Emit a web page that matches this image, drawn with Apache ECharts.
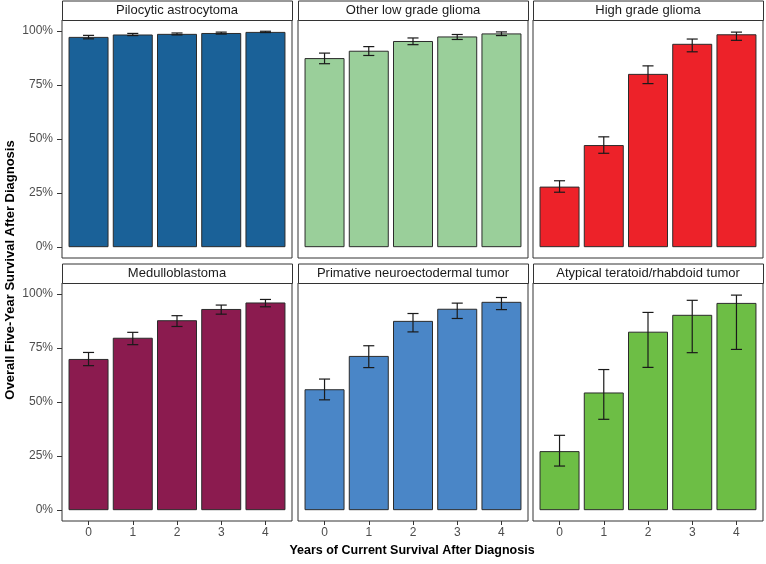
<!DOCTYPE html>
<html>
<head>
<meta charset="utf-8">
<script src="https://cdn.jsdelivr.net/npm/echarts@6/dist/echarts.min.js"></script>
<style>html,body{margin:0;padding:0;background:#fff}#c{width:766px;height:564px}</style>
</head>
<body>
<div id="c"></div>
<script>
// ---- data ----
const years = [0, 1, 2, 3, 4];
const yTicks = [0, 25, 50, 75, 100];
const panelTitles = ['Pilocytic astrocytoma', 'Other low grade glioma', 'High grade glioma',
  'Medulloblastoma', 'Primative neuroectodermal tumor', 'Atypical teratoid/rhabdoid tumor'];

const pilocyticVal = [97.2, 98.3, 98.6, 99.0, 99.5];
const pilocyticLo  = [96.3, 97.8, 98.1, 98.5, 99.2];
const pilocyticHi  = [97.9, 98.8, 99.0, 99.4, 99.8];

const lowGradeVal = [87.4, 90.8, 95.3, 97.4, 98.8];
const lowGradeLo  = [84.8, 88.6, 93.6, 96.0, 97.8];
const lowGradeHi  = [89.7, 92.7, 96.7, 98.3, 99.5];

const highGradeVal = [28.0, 47.2, 80.1, 94.0, 98.4];
const highGradeLo  = [25.4, 43.4, 75.6, 90.3, 95.6];
const highGradeHi  = [30.7, 51.0, 83.8, 96.2, 99.4];

const medulloVal = [69.9, 79.7, 87.8, 93.0, 96.0];
const medulloLo  = [66.8, 76.5, 84.9, 90.6, 94.0];
const medulloHi  = [72.9, 82.2, 89.9, 94.8, 97.4];

const pnetVal = [55.9, 71.3, 87.5, 93.1, 96.3];
const pnetLo  = [51.0, 65.9, 82.4, 88.6, 92.7];
const pnetHi  = [60.6, 76.0, 90.9, 95.7, 98.3];

const atrtVal = [27.3, 54.4, 82.5, 90.3, 95.8];
const atrtLo  = [20.4, 42.0, 66.0, 72.8, 74.3];
const atrtHi  = [34.6, 65.0, 91.4, 97.0, 99.4];

const panelVals = [pilocyticVal, lowGradeVal, highGradeVal, medulloVal, pnetVal, atrtVal];
const panelLo = [pilocyticLo, lowGradeLo, highGradeLo, medulloLo, pnetLo, atrtLo];
const panelHi = [pilocyticHi, lowGradeHi, highGradeHi, medulloHi, pnetHi, atrtHi];
const panelColors = ['#1a6198', '#9acf9a', '#ed2229', '#8b1b4f', '#4a86c7', '#6dbe45'];

// ---- layout ----
const colLeft = [62, 298, 533];
const panelW = 230;
const rowStripTop = [0.5, 263.5];
const stripH = 19.5;
const rowTop = [20, 283];
const panelH = 238;
const FONT = '"Liberation Sans", Arial, sans-serif';

const grids = [], xAxes = [], yAxes = [], series = [], graphics = [];
for (let i = 0; i < 6; i++) {
  const r = Math.floor(i / 3), c = i % 3;
  grids.push({left: colLeft[c], top: rowTop[r], width: panelW, height: panelH,
    show: true, borderColor: '#333', borderWidth: 1, backgroundColor: '#fff', containLabel: false});
  xAxes.push({type: 'value', gridIndex: i, min: -0.6, max: 4.6, position: 'bottom',
    axisLine: {show: false, onZero: false}, splitLine: {show: false},
    axisTick: {show: r === 1, customValues: years, length: 4, lineStyle: {color: '#333'}},
    axisLabel: {show: r === 1, customValues: years, color: '#4d4d4d', fontSize: 12, fontFamily: FONT, margin: 6}});
  yAxes.push({type: 'value', gridIndex: i, min: -5, max: 105, position: 'left',
    axisLine: {show: false, onZero: false}, splitLine: {show: false},
    axisTick: {show: c === 0, customValues: yTicks, length: 5, lineStyle: {color: '#333'}},
    axisLabel: {show: c === 0, customValues: yTicks, formatter: '{value}%', color: '#4d4d4d', fontSize: 12, fontFamily: FONT, margin: 9}});
  const vals = panelVals[i];
  series.push({type: 'bar', xAxisIndex: i, yAxisIndex: i, barWidth: 40,
    data: years.map((y, k) => [y, vals[k]]),
    itemStyle: {color: panelColors[i], borderColor: '#2b2b2b', borderWidth: 1},
    silent: true, animation: false});
  series.push({type: 'custom', xAxisIndex: i, yAxisIndex: i,
    data: years.map((y, k) => [y, panelLo[i][k], panelHi[i][k]]),
    renderItem: function (params, api) {
      const x = api.value(0);
      const lo = api.coord([x, api.value(1)]);
      const hi = api.coord([x, api.value(2)]);
      const hw = api.size([0.125, 0])[0];
      const st = {stroke: '#1a1a1a', lineWidth: 1.2, fill: null};
      return {type: 'group', children: [
        {type: 'line', shape: {x1: lo[0], y1: lo[1], x2: hi[0], y2: hi[1]}, style: st},
        {type: 'line', shape: {x1: lo[0] - hw, y1: lo[1], x2: lo[0] + hw, y2: lo[1]}, style: st},
        {type: 'line', shape: {x1: hi[0] - hw, y1: hi[1], x2: hi[0] + hw, y2: hi[1]}, style: st}
      ]};
    },
    z: 5, silent: true, animation: false});
  graphics.push({type: 'rect', left: colLeft[c], top: rowStripTop[r],
    shape: {width: panelW, height: stripH}, style: {fill: '#fff', stroke: '#333', lineWidth: 1}});
  graphics.push({type: 'text', x: colLeft[c] + panelW / 2, y: rowStripTop[r] + stripH / 2,
    style: {text: panelTitles[i], align: 'center', verticalAlign: 'middle', fill: '#1a1a1a', fontSize: 13, fontFamily: FONT}});
}
graphics.push({type: 'text', x: 412, y: 551,
  style: {text: 'Years of Current Survival After Diagnosis', align: 'center', verticalAlign: 'middle',
    fill: '#000', fontSize: 12.5, fontWeight: 'bold', fontFamily: FONT}});
graphics.push({type: 'text', x: 10, y: 270, rotation: Math.PI / 2,
  style: {text: 'Overall Five-Year Survival After Diagnosis', align: 'center', verticalAlign: 'middle',
    fill: '#000', fontSize: 13, fontWeight: 'bold', fontFamily: FONT}});

const chart = echarts.init(document.getElementById('c'), null, {renderer: 'canvas'});
chart.setOption({animation: false, grid: grids, xAxis: xAxes, yAxis: yAxes, series: series, graphic: graphics});
</script>
</body>
</html>
